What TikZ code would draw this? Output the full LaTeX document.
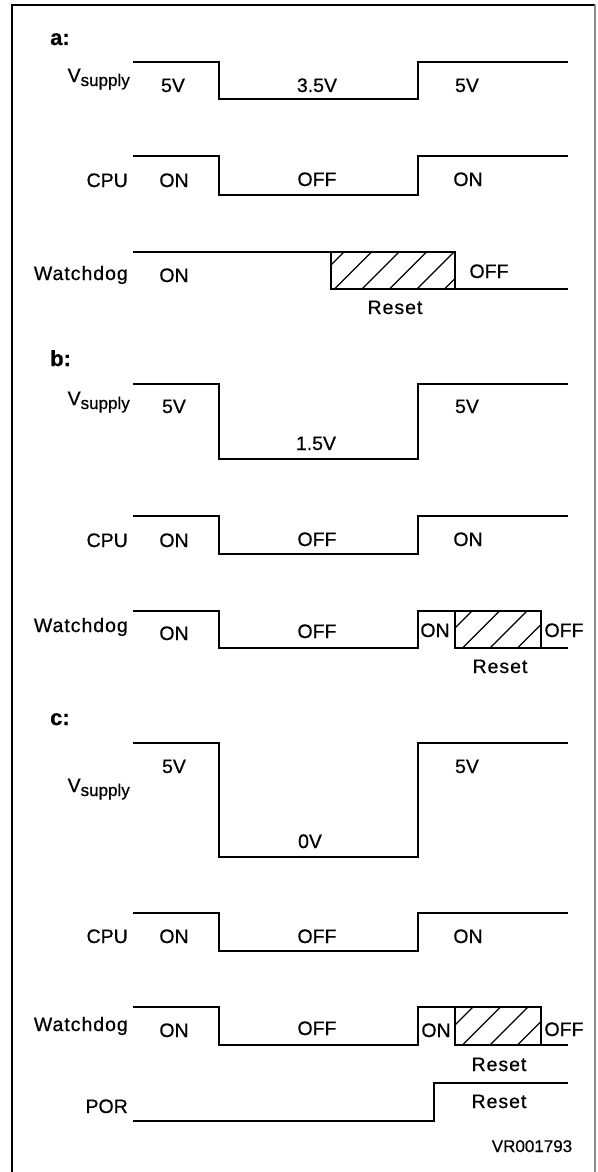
\documentclass[tikz,border=0pt]{standalone}
\usepackage{fontspec}
\setmainfont{Liberation Sans}[FakeBold=0.6]
\newcommand{\Vsup}{V\raisebox{-4pt}{\fontsize{17}{17}\selectfont supply}}
\newcommand{\hatchrect}[5]{%
  \begin{scope}
    \clip (#1,#3) rectangle (#2,#4);
    \foreach \hx in {#5} \draw[hatchline] (\hx,#4) -- ++(60,-60);
  \end{scope}
  \draw[hatchbox] (#1,#3) rectangle (#2,#4);
}
\begin{document}
\begin{tikzpicture}[x=1pt,y=-1pt,
  sig/.style={line width=1.7pt, line join=miter, line cap=butt},
  lbl/.style={inner sep=0pt, font=\fontsize{19.5}{20}\selectfont, anchor=base},
  rlbl/.style={lbl, anchor=base east},
  wide/.style={font=\fontsize{19.5}{20}\selectfont\addfontfeature{LetterSpace=5}},
  sec/.style={inner sep=0pt, font=\fontsize{22}{22}\selectfont\bfseries, anchor=base west},
  hatchbox/.style={line width=1.5pt},
  hatchline/.style={line width=1.2pt},
]
\useasboundingbox (0,0) rectangle (597,1172);
\fill[white] (0,0) rectangle (597,1172);
% frame
\draw[line width=2pt] (12,1180) -- (12,5) -- (595,5);
\draw[line width=2pt, black!45] (595,5) -- (595,1180);

% ---------- a ----------
\node[sec] (la) at (50,45) {a:};
\node[rlbl] (va) at (130,82) {\Vsup};
\node[rlbl] (ca) at (128,187) {CPU};
\node[rlbl, wide] (wa) at (128,280) {Watchdog};
\draw[sig] (133,62) -- (219,62) -- (219,99) -- (418,99) -- (418,62) -- (568,62);
\draw[sig] (133,156) -- (219,156) -- (219,195) -- (418,195) -- (418,156) -- (568,156);
\draw[sig] (133,252) -- (331,252);
\hatchrect{331}{455}{252}{289}{307,334.5,362,389.5,417,444.5}
\draw[sig] (455,289) -- (568,289);
\node[lbl] (a1) at (173,92) {5V};
\node[lbl] (a2) at (317,92) {3.5V};
\node[lbl] (a3) at (467,92) {5V};
\node[lbl] (a4) at (174,187) {ON};
\node[lbl] (a5) at (317,186) {OFF};
\node[lbl] (a6) at (468,186) {ON};
\node[lbl] (a7) at (174,282) {ON};
\node[lbl] (a8) at (489,278) {OFF};
\node[lbl, wide] (a9) at (395,314) {Reset};

% ---------- b ----------
\node[sec] (lb) at (50,366) {b:};
\node[rlbl] (vb) at (130,405) {\Vsup};
\node[rlbl] (cb) at (128,547) {CPU};
\node[rlbl, wide] (wb) at (128,632) {Watchdog};
\draw[sig] (133,384) -- (219,384) -- (219,459) -- (418,459) -- (418,384) -- (568,384);
\draw[sig] (133,516) -- (219,516) -- (219,554) -- (418,554) -- (418,516) -- (568,516);
\draw[sig] (133,611) -- (219,611) -- (219,648) -- (418,648) -- (418,611) -- (455,611);
\hatchrect{455}{541}{611}{648}{435,462.5,490,517.5}
\draw[sig] (541,648) -- (568,648);
\node[lbl] (b1) at (174,413) {5V};
\node[lbl] (b2) at (316,450) {1.5V};
\node[lbl] (b3) at (467,413) {5V};
\node[lbl] (b4) at (174,547) {ON};
\node[lbl] (b5) at (317,546) {OFF};
\node[lbl] (b6) at (468,546) {ON};
\node[lbl] (b7) at (174,640) {ON};
\node[lbl] (b8) at (317,638) {OFF};
\node[lbl] (b9) at (435,637) {ON};
\node[lbl] (b10) at (564,637) {OFF};
\node[lbl, wide] (b11) at (500,673) {Reset};

% ---------- c ----------
\node[sec] (lc) at (50,725) {c:};
\node[rlbl] (vc) at (130,792) {\Vsup};
\node[rlbl] (cc) at (128,943) {CPU};
\node[rlbl, wide] (wc) at (128,1031) {Watchdog};
\node[rlbl] (pc) at (128,1113) {POR};
\draw[sig] (133,743) -- (219,743) -- (219,857) -- (418,857) -- (418,743) -- (568,743);
\draw[sig] (133,913) -- (219,913) -- (219,951) -- (418,951) -- (418,913) -- (568,913);
\draw[sig] (133,1007) -- (219,1007) -- (219,1045) -- (418,1045) -- (418,1007) -- (455,1007);
\hatchrect{455}{541}{1007}{1045}{435,462.5,490,517.5}
\draw[sig] (541,1045) -- (568,1045);
\draw[sig] (133,1121) -- (434,1121) -- (434,1083) -- (568,1083);
\node[lbl] (c1) at (174,773) {5V};
\node[lbl] (c2) at (310,848) {0V};
\node[lbl] (c3) at (467,773) {5V};
\node[lbl] (c4) at (174,943) {ON};
\node[lbl] (c5) at (317,943) {OFF};
\node[lbl] (c6) at (468,943) {ON};
\node[lbl] (c7) at (174,1037) {ON};
\node[lbl] (c8) at (317,1035) {OFF};
\node[lbl] (c9) at (436,1037) {ON};
\node[lbl] (c10) at (564,1036) {OFF};
\node[lbl, wide] (c11) at (499,1071) {Reset};
\node[lbl, wide] (c12) at (499,1108) {Reset};
\node[lbl, font=\fontsize{17}{17}\selectfont] (vr) at (532,1152) {VR001793};
\end{tikzpicture}
\end{document}
